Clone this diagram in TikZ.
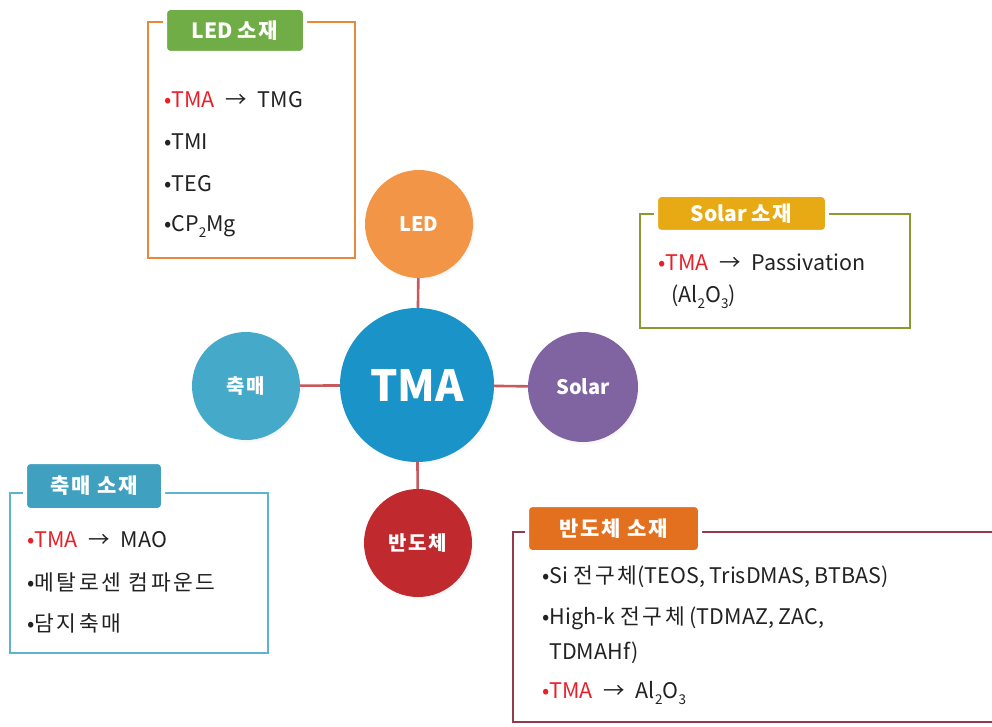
\documentclass[tikz,border=0pt]{standalone}
\usepackage{fontspec}
\setmainfont{Noto Sans CJK KR}
\newfontfamily\krls{Noto Sans CJK KR}[LetterSpace=12]
\newfontfamily\krtab{Noto Sans CJK KR}[LetterSpace=8]
\usetikzlibrary{shadows}
\definecolor{ledframe}{HTML}{E9873A}
\definecolor{ledtab}{HTML}{70AD47}
\definecolor{solframe}{HTML}{8A9A30}
\definecolor{soltab}{HTML}{E8AA14}
\definecolor{catframe}{HTML}{5CB4D2}
\definecolor{cattab}{HTML}{3FA0BF}
\definecolor{semframe}{HTML}{953A4C}
\definecolor{semtab}{HTML}{E2701F}
\definecolor{conn}{HTML}{C85A5E}
\definecolor{cled}{HTML}{F39546}
\definecolor{ctma}{HTML}{1A93C9}
\definecolor{ccat}{HTML}{45A9C9}
\definecolor{csol}{HTML}{8064A2}
\definecolor{csem}{HTML}{C0292E}
\definecolor{tred}{HTML}{E8202A}
\definecolor{tblk}{HTML}{222222}
\newcommand\mysb[1]{\raisebox{-0.28em}{\fontsize{13.5}{13.5}\selectfont #1}}
\newcommand\rb{\textcolor{tred}{•TMA}}
\newcommand\arr{\enspace→\enspace}
\newcommand\kt[1]{{\krls #1}}
\newcommand\kb[1]{{\krtab\bfseries #1}}
\tikzset{
  frame/.style={line width=2.4pt},
  tab/.style={rounded corners=5pt, draw=white, line width=4pt, text=white,
    font=\fontsize{21}{21}\selectfont\bfseries, inner sep=0pt},
  item/.style={anchor=west, inner sep=0pt, text=tblk, font=\fontsize{21.5}{21.5}\selectfont},
  ball/.style={circle, inner sep=0pt, text=white, font=\fontsize{20}{20}\selectfont\bfseries,
    circular drop shadow={opacity=0.18, shadow xshift=1.5pt, shadow yshift=-2pt, shadow scale=1.02}},
  link/.style={conn, line width=2.6pt}
}
\begin{document}
\begin{tikzpicture}[x=1pt,y=-1pt]
\useasboundingbox[fill=white] (0,0) rectangle (992,727);

% ---------- circles ----------
\node[ball, fill=ctma, minimum size=154pt, font=\fontsize{43}{43}\selectfont\bfseries] (tma) at (417,385) {TMA};
\node[ball, fill=cled, minimum size=108pt] (led) at (419,224) {LED};
\node[ball, fill=ccat, minimum size=108pt] (cat) at (246,386) {\kb{축매}};
\node[ball, fill=csol, minimum size=110pt] (sol) at (583,387) {Solar};
\node[ball, fill=csem, minimum size=108pt] (sem) at (418,543) {\kb{반도체}};
\draw[link] (led) -- (tma);
\draw[link] (cat) -- (tma);
\draw[link] (sol) -- (tma);
\draw[link] (sem) -- (tma);

% ---------- LED box ----------
\draw[frame, draw=ledframe] (148,22) rectangle (355,258);
\node[tab, fill=ledtab, minimum width=140pt, minimum height=45pt] (ledtab) at (235,30.5) {LED \kb{소재}};
\node[item] (l1) at (164,100) {\rb\arr TMG};
\node[item] (l2) at (164,142) {•TMI};
\node[item] (l3) at (164,184) {•TEG};
\node[item] (l4) at (164,226) {•CP\mysb{2}Mg};

% ---------- Solar box ----------
\draw[frame, draw=solframe] (640,214) rectangle (910,328);
\node[tab, fill=soltab, minimum width=171pt, minimum height=37pt] (soltab) at (741.5,213.5) {Solar \kb{소재}};
\node[item] (s1) at (658,262) {\rb\arr Passivation};
\node[item] (s2) at (671,297) {(Al\mysb{2}O\mysb{3})};

% ---------- catalyst box ----------
\draw[frame, draw=catframe] (10,493) rectangle (268,653);
\node[tab, fill=cattab, minimum width=138pt, minimum height=48pt] (cattab) at (94,486) {\kb{축매 소재}};
\node[item] (c1) at (27,540) {\rb\arr MAO};
\node[item] (c2) at (27,582) {•\kt{메탈로센 컴파운드}};
\node[item] (c3) at (27,623) {•\kt{담지축매}};

% ---------- semiconductor box ----------
\draw[frame, draw=semframe] (1000,532) -- (513,532) -- (513,722) -- (1000,722);
\node[tab, fill=semtab, minimum width=173pt, minimum height=47pt] (semtab) at (613.5,528.5) {\kb{반도체 소재}};
\node[item] (m1) at (542,577) {•Si \kt{전구체}(TEOS, TrisDMAS, BTBAS)};
\node[item] (m2) at (542,618) {•High-k \kt{전구체} (TDMAZ, ZAC,};
\node[item] (m3) at (549,653) {TDMAHf)};
\node[item] (m4) at (542,693) {\rb\arr Al\mysb{2}O\mysb{3}};
\end{tikzpicture}
\end{document}
